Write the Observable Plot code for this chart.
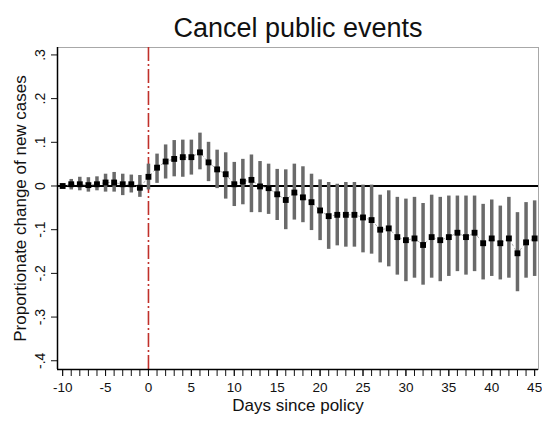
<!DOCTYPE html>
<html><head><meta charset="utf-8">
<script src="https://cdn.jsdelivr.net/npm/d3@7"></script>
<script src="https://cdn.jsdelivr.net/npm/@observablehq/plot@0.6"></script>
<style>body{margin:0;background:#fff}</style>
</head><body><div id="chart"></div>
<script>
const days = [-10,-9,-8,-7,-6,-5,-4,-3,-2,-1,0,1,2,3,4,5,6,7,8,9,10,11,12,13,14,15,16,17,18,19,20,21,22,23,24,25,26,27,28,29,30,31,32,33,34,35,36,37,38,39,40,41,42,43,44,45];
const estimates = [0,0.004,0.004,0.002,0.004,0.008,0.008,0.004,0.004,-0.004,
  0.021,0.042,0.056,0.062,0.066,0.066,0.077,0.054,0.038,0.027,
  0.004,0.01,0.014,-0.001,-0.005,-0.019,-0.032,-0.015,-0.026,-0.037,
  -0.056,-0.069,-0.066,-0.066,-0.066,-0.072,-0.078,-0.1,-0.097,-0.117,
  -0.124,-0.12,-0.135,-0.117,-0.124,-0.117,-0.107,-0.117,-0.107,-0.131,
  -0.12,-0.131,-0.12,-0.154,-0.129,-0.12];
const ciLow = [-0.004,-0.009,-0.011,-0.014,-0.011,-0.014,-0.014,-0.022,-0.016,-0.026,
  -0.009,0.006,0.016,0.021,0.02,0.025,0.037,0.01,-0.006,-0.03,
  -0.047,-0.043,-0.061,-0.061,-0.065,-0.079,-0.1,-0.078,-0.084,-0.102,
  -0.125,-0.145,-0.137,-0.14,-0.14,-0.153,-0.156,-0.176,-0.185,-0.204,
  -0.219,-0.211,-0.227,-0.211,-0.219,-0.207,-0.196,-0.204,-0.196,-0.215,
  -0.207,-0.215,-0.211,-0.242,-0.211,-0.207];
const ciHigh = [0.004,0.015,0.02,0.019,0.021,0.027,0.031,0.027,0.025,0.024,
  0.05,0.073,0.094,0.104,0.105,0.105,0.121,0.1,0.082,0.076,
  0.054,0.061,0.071,0.056,0.05,0.038,0.037,0.05,0.044,0.027,
  0.014,0.008,0.004,0.008,0.008,0.002,0.002,-0.021,-0.011,-0.026,
  -0.03,-0.026,-0.04,-0.021,-0.026,-0.023,-0.023,-0.023,-0.023,-0.042,
  -0.032,-0.046,-0.026,-0.061,-0.038,-0.034];
const xTickValues = [-10,-5,0,5,10,15,20,25,30,35,40,45];
const yTickValues = [-0.4,-0.3,-0.2,-0.1,0,0.1,0.2,0.3];
const titleText = "Cancel public events";
const xLabel = "Days since policy";
const yLabel = "Proportionate change of new cases";

const data = days.map((d, i) => ({day: d, est: estimates[i], lo: ciLow[i], hi: ciHigh[i]}));
const fmt = v => Math.abs(v) < 1e-9 ? "0" : (v < 0 ? "-" : "") + "." + Math.round(Math.abs(v) * 10);
const xMin = -10.6, xMax = 45.45, yMin = -0.42, yMax = 0.317;

const chart = Plot.plot({
  width: 542, height: 421,
  marginLeft: 57, marginRight: 4, marginTop: 47, marginBottom: 52,
  style: {fontFamily: "'Liberation Sans', Arial, sans-serif", color: "#111", background: "#fff"},
  x: {domain: [xMin, xMax]},
  y: {domain: [yMin, yMax]},
  marks: [
    Plot.frame({stroke: "#a8a8a8"}),
    Plot.ruleX([0], {stroke: "#c0302a", strokeWidth: 1.6, strokeDasharray: "14,3,2,3"}),
    Plot.ruleY([0], {stroke: "#000", strokeWidth: 2}),
    Plot.line(data, {x: "day", y: "est", stroke: "#b0b0b0", strokeWidth: 1, strokeDasharray: "2,3"}),
    Plot.ruleX(data, {x: "day", y1: "lo", y2: "hi", stroke: "#6a6a6a", strokeWidth: 3.5}),
    Plot.dot(data, {x: "day", y: "est", symbol: "square", r: 3.3, fill: "#000"}),
    Plot.axisX({ticks: days, tickSize: 7, tickFormat: () => "", label: null}),
    Plot.axisX({ticks: xTickValues, tickSize: 7, tickPadding: 6, fontSize: 13.5, tickFormat: d => String(d), label: null}),
    Plot.axisY({ticks: yTickValues, tickSize: 6, tickPadding: 7, tickRotate: -90, tickFormat: fmt, fontSize: 14, label: null}),
    Plot.ruleX([xMin], {stroke: "#000", strokeWidth: 1.5}),
    Plot.ruleY([yMin], {stroke: "#000", strokeWidth: 1.5}),
    Plot.text([titleText], {frameAnchor: "top", lineAnchor: "middle", dy: -19, fontSize: 27}),
    Plot.text([xLabel], {frameAnchor: "bottom", lineAnchor: "middle", dy: 36, fontSize: 17}),
    Plot.text([yLabel], {frameAnchor: "left", textAnchor: "middle", lineAnchor: "middle", dx: -37, rotate: -90, fontSize: 17})
  ]
});
document.getElementById("chart").append(chart);
</script>
</body></html>
